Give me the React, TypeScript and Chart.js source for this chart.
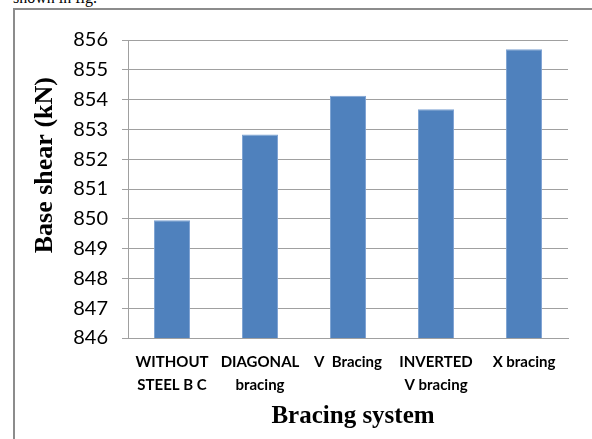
import React, { useEffect, useRef } from "react";
import { Chart, registerables } from "chart.js";

Chart.register(...registerables);

const categories: string[][] = [
  ["WITHOUT", "STEEL B C"],
  ["DIAGONAL", "bracing"],
  ["V  Bracing"],
  ["INVERTED", "V bracing"],
  ["X bracing"],
];
const baseShear: number[] = [849.95, 852.83, 854.13, 853.68, 855.69];
const yMin = 846;
const yMax = 856;
const yStep = 1;
const yTitle = "Base shear (kN)";
const xTitle = "Bracing system";

// Axis titles in bold serif, placed relative to the plot area
const axisTitles = {
  id: "axisTitles",
  afterDraw(chart: Chart) {
    const { ctx, chartArea } = chart;
    ctx.save();
    ctx.fillStyle = "#000";
    ctx.font = "bold 26px 'Liberation Serif', 'Times New Roman', serif";
    ctx.textAlign = "center";
    ctx.textBaseline = "middle";
    ctx.translate(45, chartArea.top + chartArea.height * 0.42);
    ctx.rotate(-Math.PI / 2);
    ctx.fillText(yTitle, 0, 0);
    ctx.restore();

    ctx.save();
    ctx.fillStyle = "#000";
    ctx.font = "bold 25px 'Liberation Serif', 'Times New Roman', serif";
    ctx.textAlign = "center";
    ctx.textBaseline = "alphabetic";
    ctx.fillText(xTitle, (chartArea.left + chartArea.right) / 2 + 5, chartArea.bottom + 85);
    ctx.restore();
  },
};

export default function App() {
  const canvasRef = useRef<HTMLCanvasElement | null>(null);

  useEffect(() => {
    if (!canvasRef.current) return;
    const chart = new Chart(canvasRef.current, {
      type: "bar",
      data: {
        labels: categories,
        datasets: [
          {
            data: baseShear,
            backgroundColor: "#4f81bd",
            borderColor: "#7ea3d3",
            borderWidth: 1,
            categoryPercentage: 1,
            barPercentage: 0.41,
          },
        ],
      },
      options: {
        animation: false,
        responsive: false,
        devicePixelRatio: 1,
        layout: { padding: { top: 40, right: 24, bottom: 0, left: 0 } },
        plugins: {
          legend: { display: false },
          tooltip: { enabled: false },
        },
        scales: {
          x: {
            grid: { display: false, drawTicks: false },
            border: { display: true, color: "#a0a0a0", width: 1 },
            ticks: {
              color: "#000",
              padding: 13,
              maxRotation: 0,
              autoSkip: false,
              font: { family: "Lato", size: 15, weight: "bold", lineHeight: 1.5 },
            },
            afterFit(scale: any) {
              scale.height = 101;
            },
          },
          y: {
            min: yMin,
            max: yMax,
            grid: { color: "#a0a0a0", lineWidth: 1, tickLength: 6, drawTicks: true },
            border: { display: true, color: "#a0a0a0", width: 1 },
            ticks: {
              stepSize: yStep,
              color: "#000",
              padding: 14,
              font: { family: "Lato", size: 20 },
            },
            afterFit(scale: any) {
              scale.width = 128;
            },
          },
        },
      },
      plugins: [axisTitles],
    });
    return () => chart.destroy();
  }, []);

  return (
    <div style={{ position: "absolute", left: 0, top: 0, width: 592, height: 439, background: "#fff", overflow: "hidden" }}>
      <div
        style={{
          position: "absolute",
          left: 13,
          top: -11,
          fontFamily: "'Liberation Serif', 'Times New Roman', serif",
          fontSize: 16,
          lineHeight: "18px",
          color: "#000",
          whiteSpace: "nowrap",
        }}
      >
        shown in fig.
      </div>
      <div
        style={{
          position: "absolute",
          left: 13,
          top: 8,
          width: 600,
          height: 460,
          borderLeft: "2px solid #8c8c8c",
          borderTop: "2px solid #8c8c8c",
        }}
      />
      <canvas ref={canvasRef} width={592} height={439} style={{ position: "absolute", left: 0, top: 0 }} />
    </div>
  );
}
